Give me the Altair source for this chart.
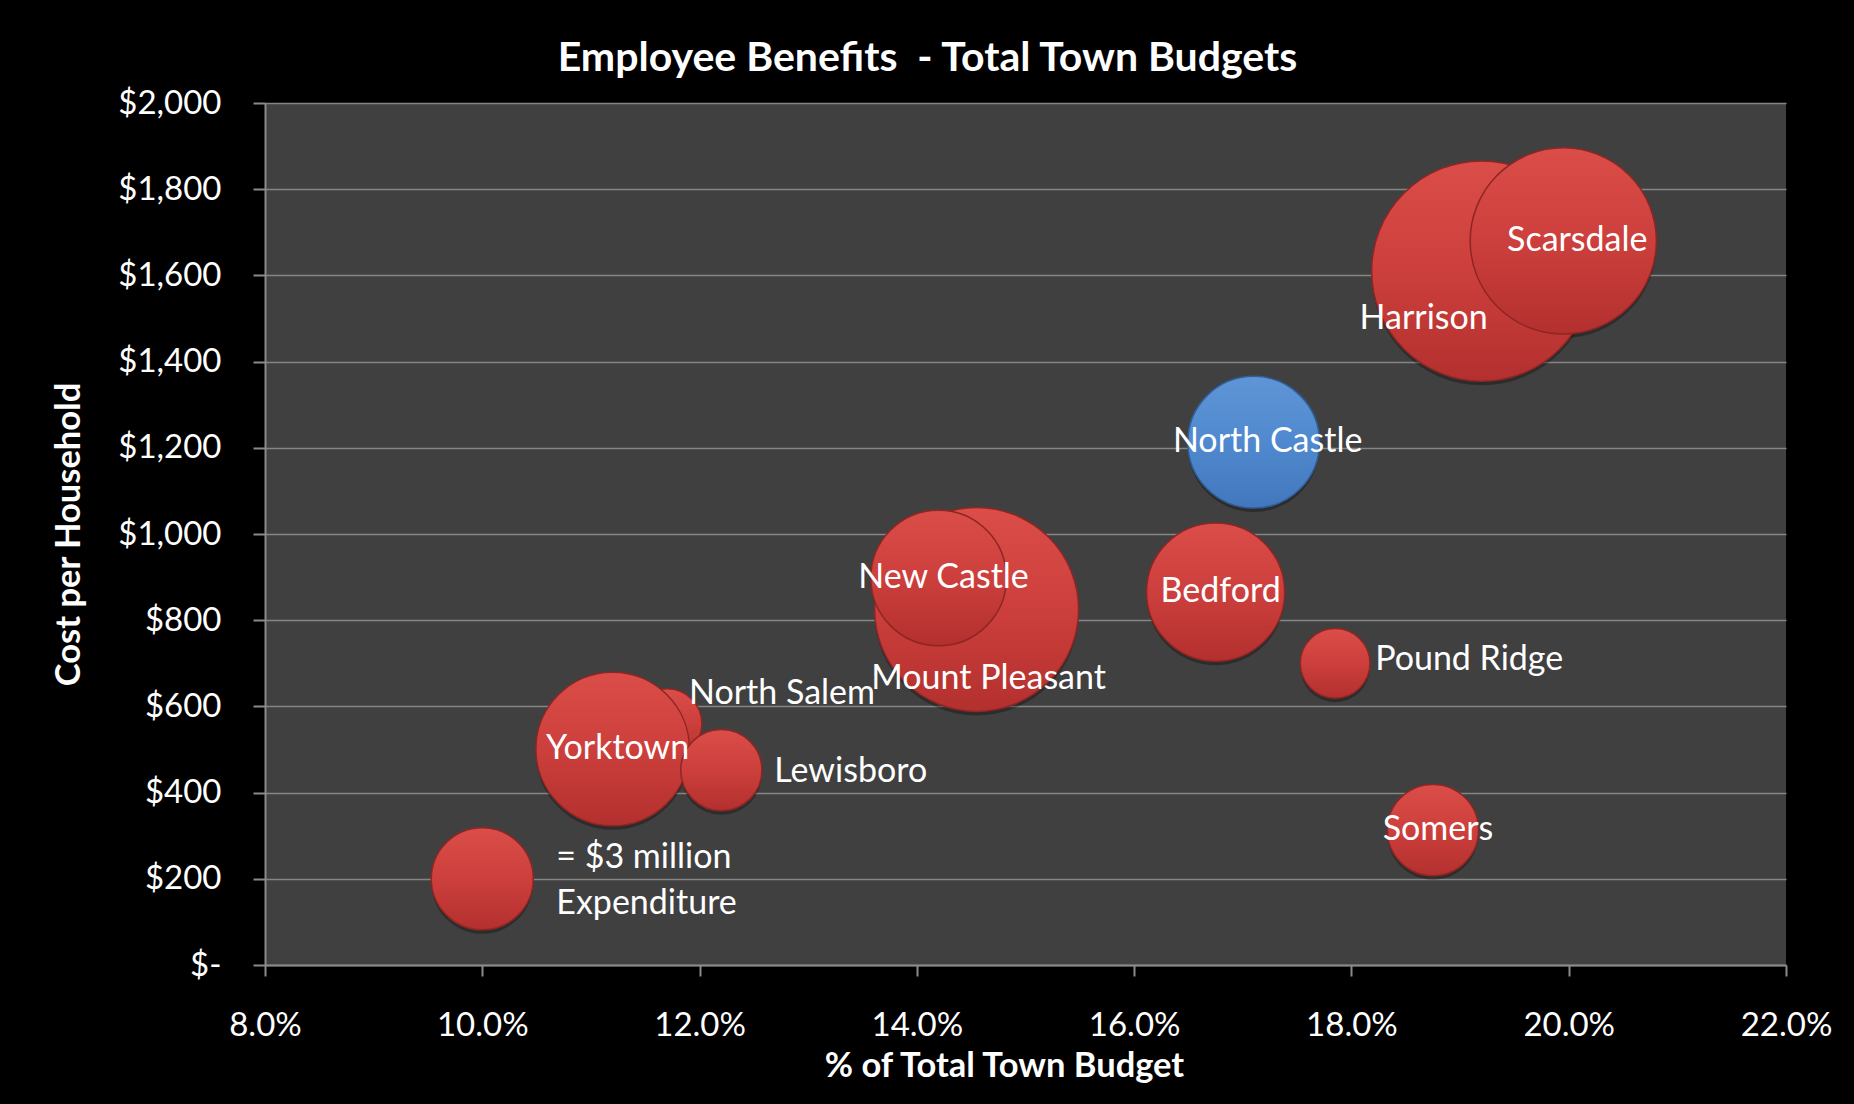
import altair as alt
import pandas as pd

# Employee benefit spending by town
towns = ["Harrison", "Scarsdale", "Mount Pleasant", "New Castle", "Bedford",
         "Pound Ridge", "Somers", "North Salem", "Yorktown", "Lewisboro",
         "North Castle"]
pct_of_budget = [19.2, 19.95, 14.55, 14.2, 16.75, 17.85, 18.75, 11.7, 11.2, 12.2, 17.1]
cost_per_household = [1610, 1680, 825, 898, 865, 700, 313, 560, 501, 452, 1213]
spend_millions = [14.0, 10.0, 12.0, 5.3, 5.5, 1.4, 2.4, 1.4, 6.8, 1.9, 5.0]

# Reference bubble used as a size key
key_pct = [10.0]
key_cost = [200]
key_spend = [3.0]
key_label = ["= $3 million\nExpenditure"]

x_ticks = [8, 10, 12, 14, 16, 18, 20, 22]
y_ticks = [0, 200, 400, 600, 800, 1000, 1200, 1400, 1600, 1800, 2000]

HIGHLIGHT = "North Castle"
CENTER_LABELS = ["New Castle", "Bedford", "Somers", "Yorktown"]
CENTER_RIGHT_LABELS = ["Scarsdale", "North Castle"]

df = pd.DataFrame({"town": towns, "pct": pct_of_budget,
                   "cost": cost_per_household, "spend": spend_millions})
key_df = pd.DataFrame({"label": key_label, "pct": key_pct,
                       "cost": key_cost, "spend": key_spend})

FONT = "Lato"
LABEL_SIZE = 34

x_scale = alt.Scale(domain=[8, 22], nice=False, zero=False)
y_scale = alt.Scale(domain=[0, 2000], nice=False)
# Vega circles have radius sqrt(size)/2, so size grows as 4*r^2
size_scale = alt.Scale(domain=[0, 15], range=[0, 52020])

x_enc = alt.X("pct:Q", scale=x_scale, axis=alt.Axis(
    values=x_ticks, title="% of Total Town Budget",
    labelExpr="format(datum.value, '.1f') + '%'", labelFlush=False,
    grid=False, tickSize=11, labelPadding=49, labelBaseline="middle",
    titleX=739, titleY=101, titleBaseline="middle", titleAlign="center"))
y_enc = alt.Y("cost:Q", scale=y_scale, axis=alt.Axis(
    values=y_ticks, title="Cost per Household",
    labelExpr="datum.value == 0 ? '$-' : format(datum.value, '$,.0f')",
    labelFlush=False, grid=True, tickSize=12, labelPadding=32,
    labelBaseline="middle",
    titleX=-196, titleY=431, titleAngle=270, titleBaseline="middle",
    titleAlign="center"))
size_enc = alt.Size("spend:Q", scale=size_scale, legend=None)

red_fill = alt.LinearGradient(
    gradient="linear", x1=0, x2=0, y1=0, y2=1,
    stops=[alt.GradientStop(color="#db4d48", offset=0),
           alt.GradientStop(color="#cc3f3c", offset=0.5),
           alt.GradientStop(color="#b3302e", offset=1)])
blue_fill = alt.LinearGradient(
    gradient="linear", x1=0, x2=0, y1=0, y2=1,
    stops=[alt.GradientStop(color="#5f95d6", offset=0),
           alt.GradientStop(color="#5089cf", offset=0.5),
           alt.GradientStop(color="#4277bc", offset=1)])

base = alt.Chart(df).encode(x=x_enc, y=y_enc, size=size_enc)
key_base = alt.Chart(key_df).encode(x=alt.X("pct:Q", scale=x_scale),
                                    y=alt.Y("cost:Q", scale=y_scale),
                                    size=size_enc)

shadow = base.mark_circle(color="#000000", opacity=0.3, yOffset=4)
key_shadow = key_base.mark_circle(color="#000000", opacity=0.3, yOffset=4)

red = base.mark_circle(fill=red_fill, opacity=1, stroke="#8e2624",
                       strokeWidth=1.5).transform_filter(
    alt.datum.town != HIGHLIGHT)
blue = base.mark_circle(fill=blue_fill, opacity=1, stroke="#2f5f9c",
                        strokeWidth=1.5).transform_filter(
    alt.datum.town == HIGHLIGHT)
key_bubble = key_base.mark_circle(fill=red_fill, opacity=1, stroke="#8e2624",
                                  strokeWidth=1.5)

text_style = dict(font=FONT, fontSize=LABEL_SIZE, color="#ffffff", baseline="middle")
lbl = alt.Chart(df).encode(x=alt.X("pct:Q", scale=x_scale),
                           y=alt.Y("cost:Q", scale=y_scale), text="town:N")

center_lbl = lbl.mark_text(align="center", dx=5, **text_style).transform_filter(
    alt.FieldOneOfPredicate(field="town", oneOf=CENTER_LABELS))
center_right_lbl = lbl.mark_text(align="center", dx=14, **text_style).transform_filter(
    alt.FieldOneOfPredicate(field="town", oneOf=CENTER_RIGHT_LABELS))
harrison_lbl = lbl.mark_text(align="right", dx=6, dy=48, **text_style
                             ).transform_filter(alt.datum.town == "Harrison")
mtp_lbl = lbl.mark_text(align="center", dx=12, dy=70, **text_style
                        ).transform_filter(alt.datum.town == "Mount Pleasant")
nsalem_lbl = lbl.mark_text(align="left", dx=22, dy=-30, **text_style
                           ).transform_filter(alt.datum.town == "North Salem")
pr_lbl = lbl.mark_text(align="left", dx=40, dy=-3, **text_style
                       ).transform_filter(alt.datum.town == "Pound Ridge")
lew_lbl = lbl.mark_text(align="left", dx=53, dy=2, **text_style
                        ).transform_filter(alt.datum.town == "Lewisboro")
key_lbl = key_base.mark_text(align="left", dx=74, dy=-21, lineBreak="\n",
                             lineHeight=46, **text_style).encode(
    text="label:N", size=alt.value(LABEL_SIZE))

chart = alt.layer(
    shadow, key_shadow, red, blue, key_bubble,
    center_lbl, center_right_lbl, harrison_lbl, mtp_lbl, nsalem_lbl,
    pr_lbl, lew_lbl, key_lbl
).properties(
    width=1521, height=862,
    title=alt.TitleParams("Employee Benefits \u00a0- Total Town Budgets",
                          anchor="middle", dx=-98, offset=7),
    background="#000000",
    padding={"left": 265, "top": 103, "right": 68, "bottom": 139},
    autosize=alt.AutoSizeParams(type="none"),
).configure_view(
    fill="#404040", strokeWidth=0
).configure_axis(
    labelFont=FONT, labelFontSize=33, labelColor="#ffffff",
    titleFont=FONT, titleFontSize=34.5, titleColor="#ffffff", titleFontWeight="bold",
    domainColor="#8a8a8a", domainWidth=2, tickColor="#8a8a8a", tickWidth=2,
    gridColor="#858585", gridWidth=1.5
).configure_title(
    font=FONT, fontSize=41, fontWeight="bold", color="#ffffff"
)

chart.save("out.html", embed_options={"renderer": "svg", "actions": False})
